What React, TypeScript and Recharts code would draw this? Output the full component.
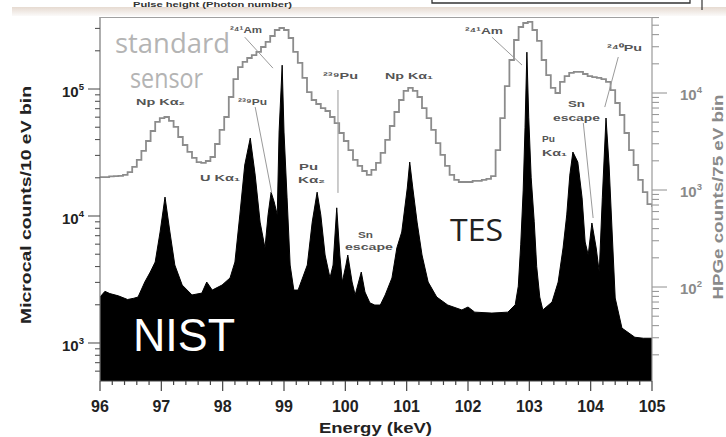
import React from "react";
import { ComposedChart, Area, Line, XAxis, YAxis, ReferenceLine } from "recharts";

// TES microcalorimeter spectrum (counts per 10 eV bin)
const tesEnergy = [
  96.0, 96.08, 96.16, 96.3, 96.45, 96.55, 96.62, 96.73, 96.82, 96.9, 96.98, 97.06, 97.14, 97.22,
  97.34, 97.5, 97.66, 97.74, 97.83, 97.99, 98.12, 98.2, 98.28, 98.36, 98.45, 98.53, 98.61, 98.69,
  98.74, 98.79, 98.84, 98.89, 98.92, 98.97, 99.0, 99.05, 99.1, 99.16, 99.23, 99.38, 99.46, 99.54,
  99.6, 99.67, 99.75, 99.8, 99.86, 99.91, 99.95, 100.01, 100.04, 100.11, 100.16, 100.26, 100.32,
  100.4, 100.48, 100.57, 100.65, 100.76, 100.84, 100.92, 101.01, 101.05, 101.1, 101.17, 101.25,
  101.35, 101.49, 101.67, 101.9, 102.0, 102.11, 102.39, 102.65, 102.77, 102.82, 102.86, 102.9,
  102.93, 102.96, 102.99, 103.03, 103.08, 103.12, 103.17, 103.22, 103.37, 103.47, 103.55, 103.61,
  103.66, 103.71, 103.79, 103.86, 103.91, 103.96, 104.02, 104.09, 104.14, 104.19, 104.25, 104.3,
  104.35, 104.4, 104.51, 104.72, 104.86, 105.0,
];
const tesCounts = [
  2300, 2550, 2450, 2350, 2200, 2250, 2300, 3020, 3620, 4340, 7480, 14100, 7480, 4110,
  2860, 2390, 2470, 3020, 2610, 2860, 3250, 4340, 10200, 25200, 41100, 21000, 8950, 5600,
  10200, 15400, 12900, 10200, 45800, 154000, 45800, 13900, 4110, 2610, 2610, 4110, 8950, 15400,
  10200, 4930, 3250, 4110, 11600, 4930, 3020, 4110, 4930, 3020, 2390, 3620, 2520,
  2070, 1990, 1990, 2390, 3250, 5600, 7480, 16600, 26600, 16600, 8950, 4930,
  3020, 2300, 1990, 1820, 1920, 1750, 1720, 1750, 2000, 2800, 6000, 16000,
  50000, 195000, 60000, 20000, 9000, 4000, 2300, 1820, 2100, 3020, 5600, 10200,
  21000, 31900, 26600, 13900, 6240, 4930, 8810, 5600, 3620, 13900, 59100, 25200,
  7480, 2260, 1310, 1110, 1090, 1090,
];

// HPGe spectrum, 75 eV bins from 96 keV
const hpgeStart = 96;
const hpgeBinWidth = 0.075;
const hpgeCounts = [
  1360, 1360, 1380, 1390, 1400, 1430, 1530, 1730, 2040, 2530,
  3200, 4060, 5030, 5520, 5660, 5150, 4470, 3520, 2910, 2470,
  2140, 1940, 1900, 1990, 2190, 2980, 4160, 5660, 9100, 13900,
  18500, 20900, 22960, 24600, 26500, 29800, 33600, 38700, 44600, 46800,
  44600, 36900, 26500, 20400, 14300, 10200, 8470, 7700, 7000, 6520,
  5660, 4900, 3870, 3200, 2580, 2040, 1770, 1570, 1430, 1610,
  1900, 2410, 3280, 4570, 6370, 8470, 10500, 11270, 10500, 9100,
  7000, 5520, 4160, 3050, 2300, 1770, 1430, 1270, 1210, 1210,
  1210, 1240, 1240, 1270, 1300, 1390, 2580, 5520, 11800, 21900,
  35200, 47900, 52700, 54000, 44600, 34400, 21900, 15300, 11270, 10000,
  13000, 14900, 16100, 16500, 16500, 15700, 14900, 14600, 14300, 13900,
  13000, 10700, 7890, 5930, 3870, 2580, 1810, 1270, 950, 715,
  668,
];

const energyLabels = [96, 97, 98, 99, 100, 101, 102, 103, 104, 105];
const microcalDecades = [1000, 10000, 100000];
const hpgeDecades = [100, 1000, 10000];

const microcalDomain = [502, 369000];
const hpgeDomain = [10.74, 60750];

const tesData = tesEnergy.map((e, i) => ({ e, tes: tesCounts[i] }));
const hpgeData = hpgeCounts.map((c, i) => ({ e: +(hpgeStart + i * hpgeBinWidth).toFixed(3), hpge: c }));

const xTicks = Array.from({ length: 46 }, (_, i) => +(96 + i * 0.2).toFixed(1));

function logTicks(lo: number, hi: number) {
  const out: number[] = [];
  for (let d = 1; d <= 1e6; d *= 10) {
    for (let m = 1; m < 10; m++) {
      const v = m * d;
      if (v >= lo && v <= hi) out.push(v);
    }
  }
  return out;
}
const leftTicks = logTicks(microcalDomain[0], microcalDomain[1]);
const rightTicks = logTicks(hpgeDomain[0], hpgeDomain[1]);

// leader lines from peak labels, in keV / microcal counts
const leaders = [
  [98.36, 256000, 98.82, 146000],
  [98.53, 72100, 98.8, 15200],
  [99.88, 98200, 99.88, 15200],
  [102.39, 256000, 102.88, 154500],
  [104.45, 178600, 104.23, 72100],
  [103.88, 54000, 104.04, 9640],
];

// peak labels: text, left x, baseline y, width
const peakLabels: [string, number, number, number][] = [
  ["Np Kα₂", 136, 105, 49],
  ["U Kα₁", 200, 181, 40],
  ["²⁴¹Am", 230, 33, 32],
  ["²³⁹Pu", 238, 105, 29],
  ["Pu", 299, 170, 19],
  ["Kα₂", 298, 183, 27],
  ["²³⁹Pu", 323, 79, 35],
  ["Np Kα₁", 385, 79, 48],
  ["Sn", 358, 238, 15],
  ["escape", 345, 250, 48],
  ["²⁴¹Am", 465, 34, 38],
  ["²⁴⁰Pu", 607, 51, 35],
  ["Sn", 568, 107, 17],
  ["escape", 553, 121, 47],
  ["Pu", 542, 142, 13],
  ["Kα₁", 542, 156, 25],
];

const AX = "'Liberation Sans', Arial, sans-serif";
const SOFT = "'Open Sans', 'Noto Sans', sans-serif";

const expOf = (v: number) => String(Math.round(Math.log10(v)));

const XTick = (p: any) => {
  const { x, y, payload } = p;
  const v = payload.value;
  const major = energyLabels.includes(v);
  return (
    <g>
      <line x1={x} x2={x} y1={y} y2={y + (major ? 10 : 4)} stroke="#444" strokeWidth={1.2} />
      {major && (
        <text x={x} y={y + 31} textAnchor="middle" fontFamily={AX} fontWeight="bold" fontSize={16} fill="#222">
          {v}
        </text>
      )}
    </g>
  );
};

const LeftTick = (p: any) => {
  const { x, y, payload } = p;
  const v = payload.value;
  const major = microcalDecades.includes(v);
  return (
    <g>
      <line x1={x} x2={x - (major ? 12 : 5)} y1={y} y2={y} stroke="#555" strokeWidth={1.1} />
      {major && (
        <text x={x - 16} y={y + 8} textAnchor="end" fontFamily={AX} fontWeight="bold" fontSize={15} fill="#222">
          10<tspan dy={-7} fontSize={9.5}>{expOf(v)}</tspan>
        </text>
      )}
    </g>
  );
};

const RightTick = (p: any) => {
  const { x, y, payload } = p;
  const v = payload.value;
  const major = hpgeDecades.includes(v);
  return (
    <g>
      <line x1={x} x2={x + (major ? 15 : 7)} y1={y} y2={y} stroke="#999" strokeWidth={1.1} />
      {major && (
        <text x={x + 28} y={y + 7} fontFamily={AX} fontWeight="bold" fontSize={15} fill="#8a8a8a">
          10<tspan dy={-7} fontSize={9.5}>{expOf(v)}</tspan>
        </text>
      )}
    </g>
  );
};

export default function App() {
  return (
    <div style={{ position: "absolute", left: 0, top: 0, width: 726, height: 437, background: "#fff", overflow: "hidden" }}>
      <ComposedChart width={726} height={437} margin={{ top: 17, right: 0, bottom: 0, left: 0 }}>
        <XAxis
          dataKey="e"
          type="number"
          domain={[96, 105]}
          allowDataOverflow
          ticks={xTicks}
          interval={0}
          tick={XTick}
          tickLine={false}
          tickSize={0}
          tickMargin={0}
          height={56}
          axisLine={{ stroke: "#444", strokeWidth: 1.2 }}
        />
        <YAxis
          yAxisId="l"
          scale="log"
          domain={microcalDomain}
          allowDataOverflow
          ticks={leftTicks}
          interval={0}
          tick={LeftTick}
          tickLine={false}
          tickSize={0}
          tickMargin={0}
          width={100}
          axisLine={{ stroke: "#777", strokeWidth: 1.2 }}
        />
        <YAxis
          yAxisId="r"
          orientation="right"
          scale="log"
          domain={hpgeDomain}
          allowDataOverflow
          ticks={rightTicks}
          interval={0}
          tick={RightTick}
          tickLine={false}
          tickSize={0}
          tickMargin={0}
          width={74}
          axisLine={{ stroke: "#999", strokeWidth: 1.2 }}
        />
        <Area
          yAxisId="l"
          data={tesData}
          dataKey="tes"
          type="linear"
          stroke="#000"
          strokeWidth={1}
          fill="#000"
          fillOpacity={1}
          baseValue="dataMin"
          dot={false}
          activeDot={false}
          isAnimationActive={false}
        />
        <Line
          yAxisId="r"
          data={hpgeData}
          dataKey="hpge"
          type="stepAfter"
          stroke="#8c8c8c"
          strokeWidth={1.8}
          dot={false}
          activeDot={false}
          isAnimationActive={false}
        />
        {leaders.map(([x1, y1, x2, y2], i) => (
          <ReferenceLine
            key={i}
            yAxisId="l"
            segment={[{ x: x1, y: y1 }, { x: x2, y: y2 }]}
            stroke="#9a9a9a"
            strokeWidth={1}
          />
        ))}
      </ComposedChart>
      <svg width={726} height={437} style={{ position: "absolute", left: 0, top: 0, pointerEvents: "none" }}>
        <defs>
          <linearGradient id="band" x1="0" y1="0" x2="0" y2="1">
            <stop offset="0" stopColor="#e6dad1" />
            <stop offset="1" stopColor="#fbfaf9" />
          </linearGradient>
        </defs>
        {/* strip left over from the figure above */}
        <rect x={12} y={7} width={714} height={9} fill="url(#band)" />
        <text x={133} y={6.5} fontFamily={AX} fontWeight="bold" fontSize={7.5} fill="#333" textLength={159} lengthAdjust="spacingAndGlyphs">
          Pulse height (Photon number)
        </text>
        <polyline points="432,0 432,3 690,3 690,0" fill="none" stroke="#333" strokeWidth={1.3} />
        <line x1={702} x2={702} y1={0} y2={10} stroke="#333" strokeWidth={1.2} />
        <line x1={100} x2={652} y1={17.5} y2={17.5} stroke="#a0a0a0" strokeWidth={1.2} />

        <text x={115} y={53} fontFamily={SOFT} fontSize={27} fill="#b4b4b4" textLength={115} lengthAdjust="spacingAndGlyphs">
          standard
        </text>
        <text x={130} y={88} fontFamily={SOFT} fontSize={27} fill="#b4b4b4" textLength={73} lengthAdjust="spacingAndGlyphs">
          sensor
        </text>
        <text x={450} y={241} fontFamily={SOFT} fontSize={31} fill="#222" textLength={53} lengthAdjust="spacingAndGlyphs">
          TES
        </text>
        <text x={133} y={351} fontFamily={AX} fontSize={46} fill="#fff" textLength={102} lengthAdjust="spacingAndGlyphs">
          NIST
        </text>

        {peakLabels.map(([t, x, y, w], i) => (
          <text key={i} x={x} y={y} fontFamily={AX} fontWeight="bold" fontSize={9} fill="#555" textLength={w} lengthAdjust="spacingAndGlyphs">
            {t}
          </text>
        ))}

        <text x={375.5} y={433} textAnchor="middle" fontFamily={AX} fontWeight="bold" fontSize={15} fill="#222" textLength={113} lengthAdjust="spacingAndGlyphs">
          Energy (keV)
        </text>
        <text transform="translate(30.5,205) rotate(-90)" textAnchor="middle" fontFamily={AX} fontWeight="bold" fontSize={15} fill="#222" textLength={238} lengthAdjust="spacingAndGlyphs">
          Microcal counts/10 eV bin
        </text>
        <text transform="translate(722.5,197) rotate(-90)" textAnchor="middle" fontFamily={AX} fontWeight="bold" fontSize={14} fill="#8a8a8a" textLength={205} lengthAdjust="spacingAndGlyphs">
          HPGe counts/75 eV bin
        </text>
      </svg>
    </div>
  );
}
